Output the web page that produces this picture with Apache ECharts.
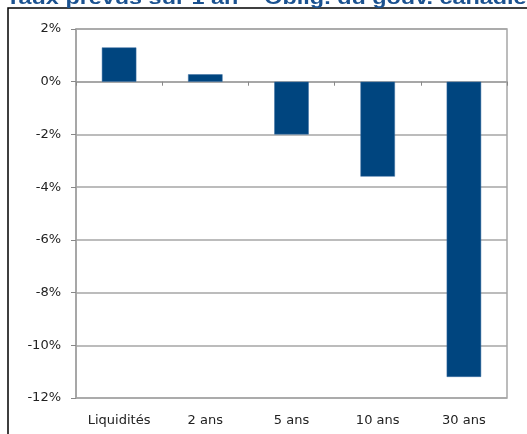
<!DOCTYPE html>
<html>
<head>
<meta charset="utf-8">
<script src="https://cdn.jsdelivr.net/npm/echarts@6/dist/echarts.min.js"></script>
<style>
  html, body { margin: 0; padding: 0; background: #fff; }
  #main { width: 527px; height: 434px; }
</style>
</head>
<body>
<div id="main"></div>
<script>
// values (in %)
const categories = ['Liquidités', '2 ans', '5 ans', '10 ans', '30 ans'];
const rateChange = [1.3, 0.28, -2.0, -3.6, -11.2];
const yTicks = [-12, 2, 2]; // min, max, step

const chartDom = document.getElementById('main');
const myChart = echarts.init(chartDom);

const labelFont = { fontFamily: 'DejaVu Sans', fontSize: 13, color: '#222' };

const option = {
  animation: false,
  graphic: [
    {
      type: 'rect',
      shape: { x: 8, y: 8, width: 700, height: 600 },
      style: { fill: 'none', stroke: '#000', lineWidth: 1.5 },
      silent: true
    },
    {
      // title is cut by the top edge in the original
      type: 'text',
      x: 6,
      y: 8,
      scaleX: 1.3,
      style: {
        text: 'Taux prévus sur 1 an \u2013 Oblig. du gouv. canadien',
        font: 'bold 18px "Liberation Sans", Arial, sans-serif',
        fill: '#1B5290',
        verticalAlign: 'bottom'
      }
    }
  ],
  grid: {
    left: 76,
    right: 20,
    top: 29,
    bottom: 36,
    show: true,
    borderColor: '#a6a6a6',
    borderWidth: 1.5,
    containLabel: false
  },
  xAxis: [
    {
      type: 'category',
      data: categories,
      axisLine: { onZero: true, lineStyle: { color: '#a0a0a0', width: 1.5 } },
      axisTick: { show: true, length: 4, inside: false, lineStyle: { color: '#888' } },
      axisLabel: { show: false }
    },
    {
      type: 'category',
      data: categories,
      position: 'bottom',
      axisLine: { show: false, onZero: false },
      axisTick: { show: false },
      axisLabel: Object.assign({ margin: 16 }, labelFont)
    }
  ],
  yAxis: {
    type: 'value',
    min: yTicks[0],
    max: yTicks[1],
    interval: yTicks[2],
    axisLine: { show: true, lineStyle: { color: '#a0a0a0', width: 1.5 } },
    axisTick: { show: true, length: 5, lineStyle: { color: '#888' } },
    axisLabel: Object.assign({ margin: 15, formatter: '{value}%' }, labelFont),
    splitLine: { show: true, lineStyle: { color: '#a6a6a6', width: 1.5 } }
  },
  series: [
    {
      type: 'bar',
      xAxisIndex: 0,
      data: rateChange,
      barWidth: '40%',
      itemStyle: { color: '#00457F', borderColor: '#3a6fa3', borderWidth: 0.5 }
    }
  ]
};

myChart.setOption(option);
</script>
</body>
</html>
